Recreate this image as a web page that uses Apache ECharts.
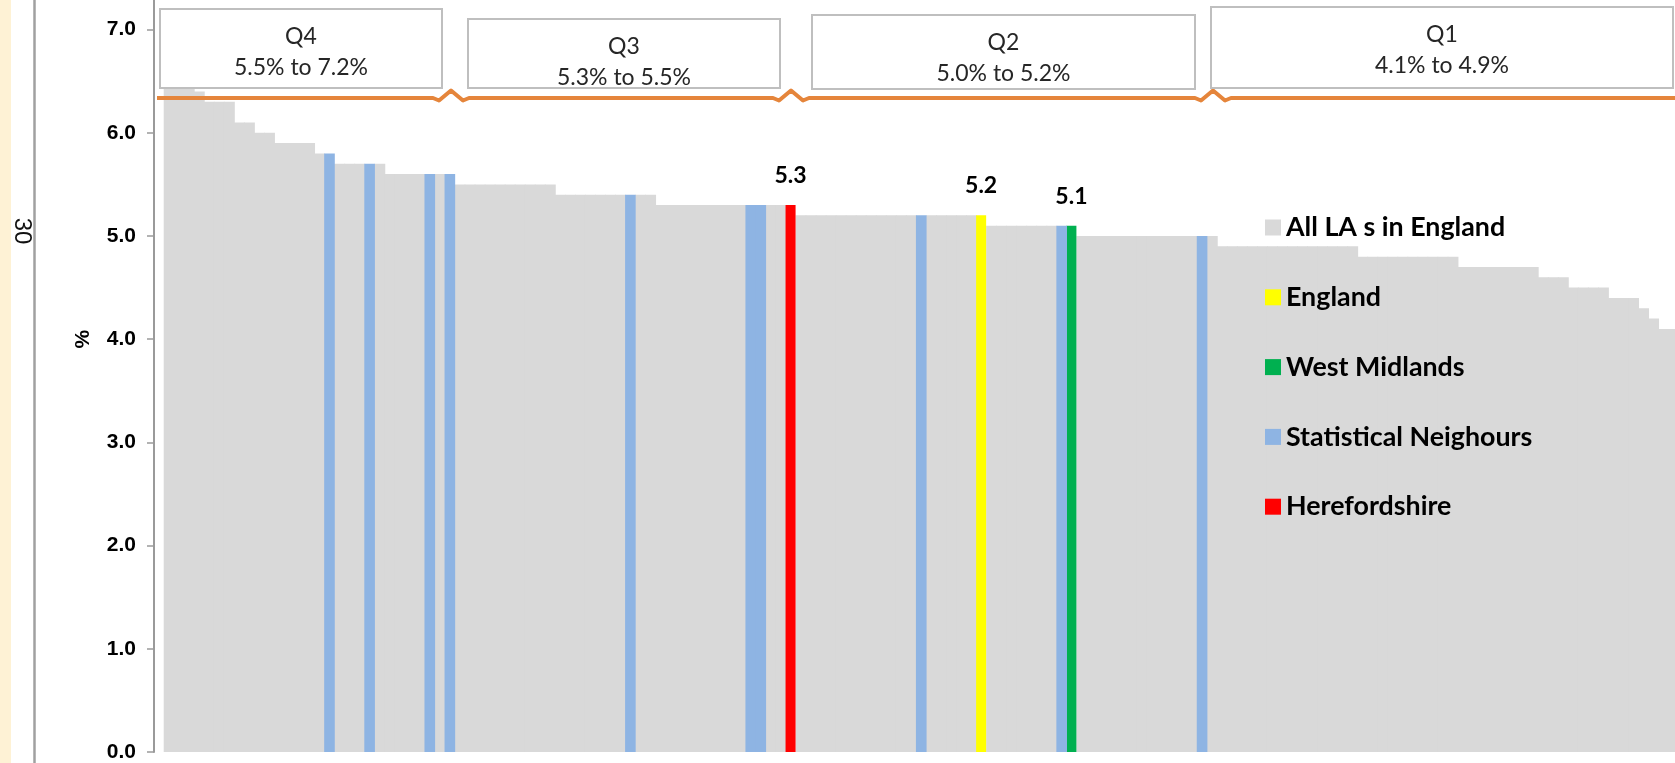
<!DOCTYPE html>
<html>
<head>
<meta charset="utf-8">
<script src="https://cdn.jsdelivr.net/npm/echarts@6/dist/echarts.min.js"></script>
<style>
html, body { margin: 0; padding: 0; background: #fff; }
#chart { width: 1675px; height: 763px; }
</style>
</head>
<body>
<div id="chart"></div>
<script>
// % per local authority, highest to lowest (England / West Midlands slotted in)
var rates = [
	7.2, 6.7, 6.5, 6.4, 6.3, 6.3, 6.3, 6.1, 6.1, 6.0,
	6.0, 5.9, 5.9, 5.9, 5.9, 5.8, 5.8, 5.7, 5.7, 5.7,
	5.7, 5.7, 5.6, 5.6, 5.6, 5.6, 5.6, 5.6, 5.6, 5.5,
	5.5, 5.5, 5.5, 5.5, 5.5, 5.5, 5.5, 5.5, 5.5, 5.4,
	5.4, 5.4, 5.4, 5.4, 5.4, 5.4, 5.4, 5.4, 5.4, 5.3,
	5.3, 5.3, 5.3, 5.3, 5.3, 5.3, 5.3, 5.3, 5.3, 5.3,
	5.3, 5.3, 5.3, 5.2, 5.2, 5.2, 5.2, 5.2, 5.2, 5.2,
	5.2, 5.2, 5.2, 5.2, 5.2, 5.2, 5.2, 5.2, 5.2, 5.2,
	5.2, 5.2, 5.1, 5.1, 5.1, 5.1, 5.1, 5.1, 5.1, 5.1,
	5.1, 5.0, 5.0, 5.0, 5.0, 5.0, 5.0, 5.0, 5.0, 5.0,
	5.0, 5.0, 5.0, 5.0, 5.0, 4.9, 4.9, 4.9, 4.9, 4.9,
	4.9, 4.9, 4.9, 4.9, 4.9, 4.9, 4.9, 4.9, 4.9, 4.8,
	4.8, 4.8, 4.8, 4.8, 4.8, 4.8, 4.8, 4.8, 4.8, 4.7,
	4.7, 4.7, 4.7, 4.7, 4.7, 4.7, 4.7, 4.6, 4.6, 4.6,
	4.5, 4.5, 4.5, 4.5, 4.4, 4.4, 4.4, 4.3, 4.2, 4.1,
	4.1
];

// positions (in rates) of the highlighted bars
var statNeighbours = [16, 20, 26, 28, 46, 58, 59, 75, 89, 103];
var herefordshire = [62];
var england = [81];
var westMidlands = [90];

var seriesNames = ['All LA s in England', 'England', 'West Midlands', 'Statistical Neighours', 'Herefordshire'];
var seriesColors = ['#D9D9D9', '#FFFF00', '#00B050', '#8EB4E3', '#FF0000'];

var quartileNames = ['Q4', 'Q3', 'Q2', 'Q1'];
var quartileRanges = ['5.5% to 7.2%', '5.3% to 5.5%', '5.0% to 5.2%', '4.1% to 4.9%'];
// box left, top, right, bottom
var quartileBoxes = [
	[160, 9, 442, 88],
	[468, 19, 780, 88],
	[812, 15, 1195, 89],
	[1211, 7, 1673, 88]
];
var braceJoins = [451, 791, 1213];

var yTicks = [0, 1, 2, 3, 4, 5, 6, 7, 8];

var categories = rates.map(function(v, i) { return 'LA' + (i + 1); });
var marked = statNeighbours.concat(herefordshire, england, westMidlands);

function pickAt(list) {
	return rates.map(function(v, i) { return list.indexOf(i) >= 0 ? v : '-'; });
}
var restData = rates.map(function(v, i) { return marked.indexOf(i) >= 0 ? '-' : v; });

var valueLabel = {
	show: true,
	position: 'top',
	distance: 18,
	fontFamily: 'Lato',
	fontWeight: 'bold',
	fontSize: 23,
	color: '#000',
	formatter: function(p) { return p.value.toFixed(1); }
};

// grey (and neighbour) bars a touch wider so touching bars show no seams
var barWidths = ['109%', '100%', '100%', '106%', '100%'];

function barSeries(k, data, withLabel) {
	return {
		name: seriesNames[k],
		type: 'bar',
		data: data,
		barGap: '-100%',
		barCategoryGap: '0%',
		barWidth: barWidths[k],
		itemStyle: { color: seriesColors[k] },
		label: withLabel ? valueLabel : { show: false },
		emphasis: { disabled: true },
		z: k === 0 ? 2 : 3
	};
}

// braces under the quartile boxes
var braceY = 98;
var bracePts = [[157, braceY]];
for (var j = 0; j < braceJoins.length; j++) {
	var xj = braceJoins[j];
	bracePts.push([xj - 18, braceY], [xj - 12, braceY + 2.5], [xj, braceY - 7.5], [xj + 12, braceY + 2.5], [xj + 18, braceY]);
}
bracePts.push([1680, braceY]);

var graphics = [
	{ type: 'rect', shape: { x: 0, y: 0, width: 11, height: 763 }, style: { fill: '#FEF2D5' }, z: 100 },
	{ type: 'line', shape: { x1: 34.5, y1: 0, x2: 34.5, y2: 763 }, style: { stroke: '#A0A0A0', lineWidth: 2.5 }, z: 100 },
	{
		type: 'text', x: 22, y: 231, rotation: -Math.PI / 2, z: 100,
		style: { text: '30', fontFamily: 'Liberation Sans', fontSize: 24, fill: '#111',
			align: 'center', verticalAlign: 'middle', textAlign: 'center', textVerticalAlign: 'middle' }
	},
	{
		type: 'polyline', z: 100,
		shape: { points: bracePts },
		style: { stroke: '#E5853B', lineWidth: 4, fill: null, lineJoin: 'round' }
	}
];

for (var q = 0; q < quartileNames.length; q++) {
	var b = quartileBoxes[q];
	var cx = (b[0] + b[2]) / 2;
	graphics.push({
		type: 'rect', z: 101,
		shape: { x: b[0], y: b[1], width: b[2] - b[0], height: b[3] - b[1] },
		style: { fill: '#fff', stroke: '#BFBFBF', lineWidth: 2 }
	});
	graphics.push({
		type: 'text', x: cx, y: b[1] + 28, z: 102,
		style: { text: quartileNames[q], fontFamily: 'Lato', fontSize: 23, fill: '#262626',
			align: 'center', verticalAlign: 'middle', textAlign: 'center', textVerticalAlign: 'middle' }
	});
	graphics.push({
		type: 'text', x: cx, y: b[1] + 59, z: 102,
		style: { text: quartileRanges[q], fontFamily: 'Lato', fontSize: 23, fill: '#262626',
			align: 'center', verticalAlign: 'middle', textAlign: 'center', textVerticalAlign: 'middle' }
	});
}

var myChart = echarts.init(document.getElementById('chart'));
var option = {
	animation: false,
	backgroundColor: '#fff',
	grid: {
		left: 163.7,
		right: -3.2,
		top: -73.6,
		bottom: 11,
		containLabel: false,
		outerBoundsMode: 'none'
	},
	legend: {
		orient: 'vertical',
		left: 1265,
		top: 214,
		padding: 0,
		itemGap: 42.8,
		itemWidth: 16,
		itemHeight: 16,
		icon: 'rect',
		selectedMode: false,
		data: seriesNames,
		textStyle: {
			fontFamily: 'Lato',
			fontWeight: 'bold',
			fontSize: 26.8,
			lineHeight: 26,
			color: '#000'
		}
	},
	xAxis: {
		type: 'category',
		data: categories,
		axisLine: { show: false },
		axisTick: { show: false },
		axisLabel: { show: false },
		splitLine: { show: false }
	},
	yAxis: {
		type: 'value',
		min: yTicks[0],
		max: yTicks[yTicks.length - 1],
		interval: 1,
		offset: 9.7,
		name: '%',
		nameLocation: 'middle',
		nameRotate: 90,
		nameGap: 60,
		nameTextStyle: {
			fontFamily: 'Liberation Sans',
			fontWeight: 'bold',
			fontSize: 21,
			color: '#000'
		},
		axisLine: { show: true, lineStyle: { color: '#9A9A9A', width: 2 } },
		axisTick: { show: true, length: 7, lineStyle: { color: '#9A9A9A', width: 1.5 } },
		axisLabel: {
			margin: 18,
			fontFamily: 'Liberation Sans',
			fontWeight: 'bold',
			fontSize: 21,
			color: '#000',
			formatter: function(v) { return v.toFixed(1); }
		},
		splitLine: { show: false }
	},
	series: [
		barSeries(0, restData, false),
		barSeries(1, pickAt(england), true),
		barSeries(2, pickAt(westMidlands), true),
		barSeries(3, pickAt(statNeighbours), false),
		barSeries(4, pickAt(herefordshire), true)
	],
	graphic: { elements: graphics }
};
myChart.setOption(option);
</script>
</body>
</html>
